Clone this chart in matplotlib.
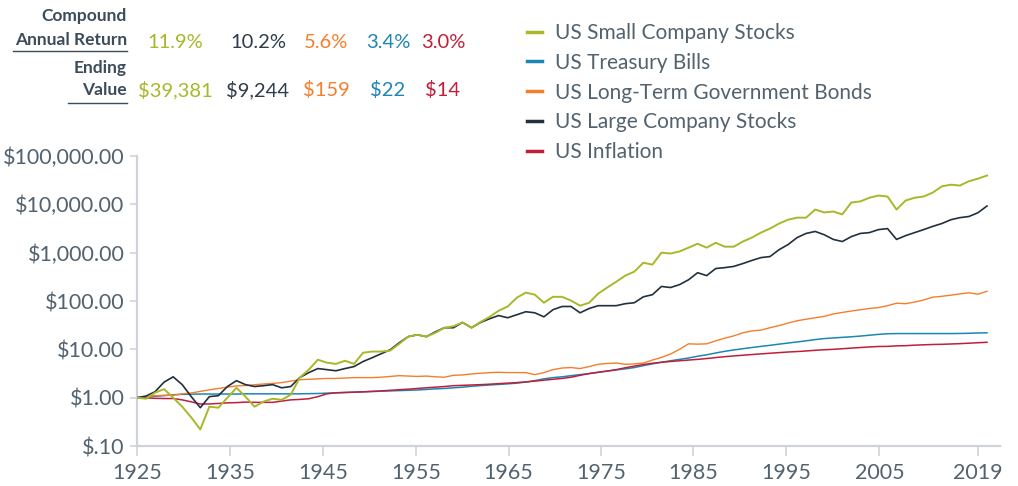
import matplotlib
matplotlib.use("Agg")
import matplotlib.pyplot as plt
from matplotlib.lines import Line2D
import numpy as np

plt.rcParams['font.family'] = ['Lato', 'DejaVu Sans']

# growth of $1, year-end values
years = np.arange(1925, 2020)

small_stocks = [
    1.0, 0.95, 1.27, 1.5, 1.0, 0.65, 0.39, 0.22, 0.65, 0.62,
    1.0, 1.6, 1.05, 0.65, 0.83, 0.95, 0.9, 1.15, 2.6, 3.8,
    6.1, 5.3, 5.0, 5.8, 5.0, 8.5, 9.0, 9.0, 9.4, 13.0,
    18.3, 20.0, 18.3, 22.0, 28.0, 30.0, 36.0, 28.0, 37.0, 47.0,
    63.0, 77.0, 117.0, 149.0, 135.0, 92.0, 122.0, 122.0, 102.0, 80.0,
    92.0, 142.0, 190.0, 250.0, 335.0, 405.0, 620.0, 565.0, 1000.0, 960.0,
    1060.0, 1270.0, 1530.0, 1270.0, 1600.0, 1330.0, 1330.0, 1700.0, 2050.0, 2600.0,
    3150.0, 4000.0, 4800.0, 5300.0, 5300.0, 7800.0, 6800.0, 7100.0, 6200.0, 10900.0,
    11500.0, 13700.0, 15200.0, 14500.0, 7800.0, 12000.0, 13700.0, 14500.0, 17500.0, 23500.0,
    25500.0, 24500.0, 30000.0, 34000.0, 39381.0,
]

large_stocks = [
    1.0, 1.08, 1.33, 2.1, 2.7, 1.86, 1.05, 0.62, 1.05, 1.1,
    1.7, 2.25, 1.86, 1.7, 1.77, 1.86, 1.6, 1.7, 2.6, 3.3,
    4.0, 3.8, 3.6, 4.0, 4.4, 5.6, 6.7, 8.1, 9.8, 13.7,
    18.3, 20.0, 18.3, 23.0, 28.0, 28.0, 36.0, 28.0, 36.0, 43.0,
    50.0, 45.0, 52.0, 60.0, 57.0, 47.0, 66.0, 77.0, 77.0, 57.0,
    70.0, 80.0, 80.0, 80.0, 88.0, 92.0, 122.0, 135.0, 200.0, 190.0,
    218.0, 275.0, 385.0, 335.0, 470.0, 490.0, 520.0, 595.0, 690.0, 790.0,
    830.0, 1150.0, 1470.0, 2050.0, 2500.0, 2750.0, 2350.0, 1880.0, 1700.0, 2150.0,
    2500.0, 2600.0, 3000.0, 3150.0, 1880.0, 2250.0, 2600.0, 3000.0, 3500.0, 4000.0,
    4800.0, 5300.0, 5600.0, 6700.0, 9244.0,
]

govt_bonds = [
    1.0, 1.05, 1.1, 1.12, 1.12, 1.2, 1.25, 1.35, 1.45, 1.55,
    1.65, 1.75, 1.78, 1.85, 1.92, 1.97, 2.05, 2.2, 2.35, 2.4,
    2.45, 2.5, 2.5, 2.55, 2.6, 2.6, 2.6, 2.65, 2.75, 2.85,
    2.8, 2.75, 2.8, 2.7, 2.65, 2.9, 2.95, 3.1, 3.2, 3.3,
    3.35, 3.3, 3.3, 3.3, 3.0, 3.3, 3.8, 4.1, 4.2, 4.0,
    4.4, 4.9, 5.1, 5.2, 4.9, 5.0, 5.2, 6.0, 6.8, 8.0,
    10.0, 13.0, 12.8, 13.0, 15.0, 17.0, 19.0, 22.0, 24.0, 25.0,
    28.0, 31.0, 35.0, 39.0, 42.0, 45.0, 48.0, 54.0, 58.0, 62.0,
    66.0, 70.0, 73.0, 80.0, 90.0, 88.0, 95.0, 105.0, 120.0, 125.0,
    132.0, 140.0, 148.0, 138.0, 159.0,
]

tbills = [
    1.0, 1.03, 1.07, 1.1, 1.15, 1.17, 1.18, 1.19, 1.19, 1.19,
    1.19, 1.19, 1.2, 1.2, 1.2, 1.2, 1.2, 1.2, 1.2, 1.21,
    1.22, 1.24, 1.26, 1.28, 1.3, 1.32, 1.34, 1.36, 1.38, 1.4,
    1.42, 1.44, 1.48, 1.52, 1.55, 1.6, 1.65, 1.72, 1.78, 1.83,
    1.88, 1.93, 2.0, 2.1, 2.25, 2.45, 2.6, 2.7, 2.85, 3.0,
    3.15, 3.35, 3.55, 3.75, 3.95, 4.2, 4.6, 5.0, 5.4, 5.8,
    6.2, 6.6, 7.2, 7.7, 8.4, 9.1, 9.7, 10.3, 10.9, 11.5,
    12.1, 12.8, 13.5, 14.2, 15.0, 15.9, 16.7, 17.2, 17.7, 18.2,
    18.8, 19.6, 20.4, 21.0, 21.2, 21.2, 21.2, 21.2, 21.2, 21.2,
    21.2, 21.3, 21.5, 21.8, 22.0,
]

inflation = [
    1.0, 0.99, 0.97, 0.96, 0.96, 0.9, 0.82, 0.74, 0.74, 0.76,
    0.78, 0.79, 0.81, 0.8, 0.8, 0.8, 0.85, 0.9, 0.92, 0.95,
    1.05, 1.2, 1.26, 1.28, 1.3, 1.32, 1.35, 1.38, 1.42, 1.46,
    1.5, 1.55, 1.6, 1.65, 1.7, 1.77, 1.8, 1.83, 1.86, 1.9,
    1.95, 2.0, 2.05, 2.12, 2.2, 2.3, 2.4, 2.5, 2.65, 2.9,
    3.15, 3.35, 3.55, 3.8, 4.15, 4.5, 4.85, 5.15, 5.4, 5.6,
    5.8, 6.0, 6.2, 6.45, 6.75, 7.05, 7.3, 7.55, 7.8, 8.05,
    8.3, 8.55, 8.8, 9.0, 9.25, 9.55, 9.8, 10.0, 10.3, 10.6,
    10.9, 11.2, 11.45, 11.5, 11.8, 11.9, 12.2, 12.4, 12.6, 12.7,
    12.9, 13.1, 13.4, 13.7, 14.0,
]

names = ["US Small Company Stocks", "US Treasury Bills",
         "US Long-Term Government Bonds", "US Large Company Stocks",
         "US Inflation"]
series = [small_stocks, tbills, govt_bonds, large_stocks, inflation]
colors = ["#a9b72a", "#1d86b2", "#f47e2b", "#22303e", "#bf1f3a"]
widths = [1.4, 1.1, 1.0, 1.2, 1.1]
zorders = [4, 2, 2, 3, 2]

# summary table columns (same order as the table)
table_returns = ["11.9%", "10.2%", "5.6%", "3.4%", "3.0%"]
table_ending = ["$39,381", "$9,244", "$159", "$22", "$14"]
table_colors = ["#a9b72a", "#2d3d4c", "#f47e2b", "#1d86b2", "#bf1f3a"]

ytick_vals = [0.1, 1, 10, 100, 1000, 10000, 100000]
ytick_labels = ["$.10", "$1.00", "$10.00", "$100.00", "$1,000.00",
                "$10,000.00", "$100,000.00"]
xtick_vals = [1925, 1935.3, 1945.6, 1955.9, 1966.1, 1976.3, 1986.5,
              1996.8, 2007.1, 2018.0]
xtick_labels = ["1925", "1935", "1945", "1955", "1965", "1975", "1985",
                "1995", "2005", "2019"]

W, H = 1018, 486
text_col = "#52626f"
axis_col = "#cfd3d9"


def fx(x):
    return x / W


def fy(y):
    return 1 - y / H


fig = plt.figure(figsize=(W / 100, H / 100), dpi=100)
ax = fig.add_axes([fx(137), fy(446), fx(1000) - fx(137), fy(156) - fy(446)])

for vals, name, c, lw, z in zip(series, names, colors, widths, zorders):
    ax.plot(years, vals, color=c, lw=lw, label=name, zorder=z)

ax.set_yscale("log")
ax.set_ylim(0.1, 100000)
ax.set_xlim(1925, 2020.44)
ax.set_yticks(ytick_vals)
ax.set_yticklabels(ytick_labels)
ax.yaxis.set_minor_locator(matplotlib.ticker.NullLocator())
ax.set_xticks(xtick_vals)
ax.set_xticklabels(xtick_labels)

for s in ["top", "right"]:
    ax.spines[s].set_visible(False)
for s in ["left", "bottom"]:
    ax.spines[s].set_color(axis_col)
    ax.spines[s].set_linewidth(1.6)
ax.tick_params(axis="both", colors=axis_col, labelcolor=text_col,
               labelsize=15.5, width=1.2)
ax.tick_params(axis="y", length=5, pad=4)
ax.tick_params(axis="x", length=7, pad=5)

handles = [Line2D([], [], color=c, lw=2.5) for c in colors]
fig.legend(handles, names, loc="upper left",
           bbox_to_anchor=(fx(527), fy(23)), frameon=False,
           fontsize=15, labelcolor=text_col, handlelength=0.7,
           handletextpad=0.65, labelspacing=0.47, borderpad=0,
           borderaxespad=0)

# return / ending value table
lab_kw = dict(ha="right", va="center", color="#3c4c5a", fontsize=12.5,
              fontweight="bold")
fig.text(fx(127), fy(16), "Compound", **lab_kw)
fig.text(fx(127), fy(40), "Annual Return", **lab_kw)
fig.text(fx(127), fy(68), "Ending", **lab_kw)
fig.text(fx(127), fy(90), "Value", **lab_kw)
fig.add_artist(Line2D([fx(13), fx(127)], [fy(51), fy(51)],
                      color="#3c4c5a", lw=1.0))
fig.add_artist(Line2D([fx(68), fx(127)], [fy(103), fy(103)],
                      color="#3c4c5a", lw=1.0))

col_x = [175, 258, 326, 388, 443]
for cx, r, e, c in zip(col_x, table_returns, table_ending, table_colors):
    fig.text(fx(cx), fy(42), r, ha="center", va="center", color=c,
             fontsize=14.5)
    fig.text(fx(cx), fy(90), e, ha="center", va="center", color=c,
             fontsize=14.5)

fig.savefig("out.png", dpi=100)
